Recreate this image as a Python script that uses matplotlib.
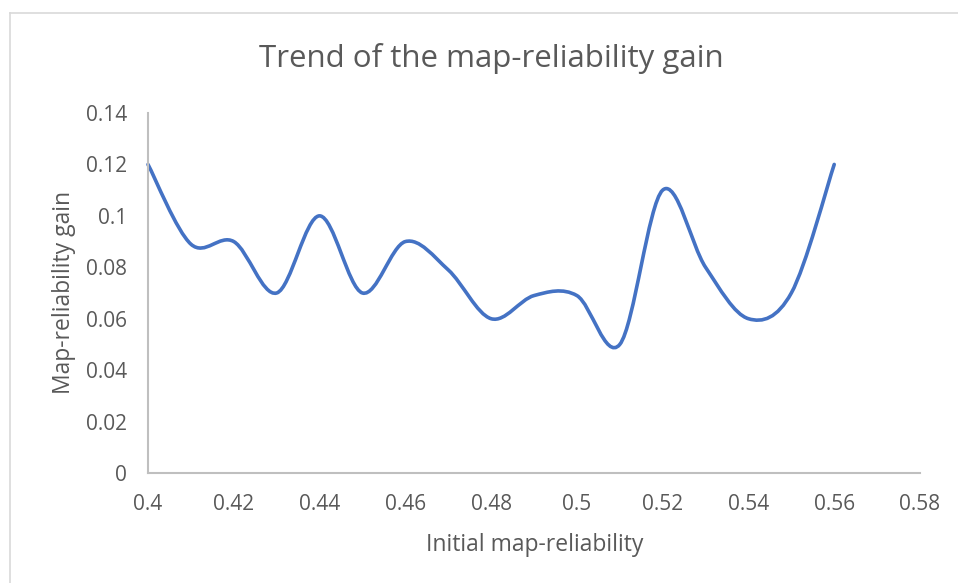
import matplotlib
matplotlib.use("Agg")
import matplotlib.pyplot as plt
from matplotlib.path import Path
from matplotlib.patches import PathPatch
from matplotlib.lines import Line2D

x_vals = [0.40, 0.41, 0.42, 0.43, 0.44, 0.45, 0.46, 0.47, 0.48, 0.49, 0.50,
          0.51, 0.52, 0.53, 0.54, 0.55, 0.56]
y_vals = [0.12, 0.089, 0.09, 0.07, 0.10, 0.07, 0.09, 0.079, 0.06, 0.069, 0.069,
          0.05, 0.11, 0.08, 0.06, 0.07, 0.12]
x_ticks = [0.40, 0.42, 0.44, 0.46, 0.48, 0.50, 0.52, 0.54, 0.56, 0.58]
x_tick_labels = ["0.4", "0.42", "0.44", "0.46", "0.48", "0.5", "0.52", "0.54", "0.56", "0.58"]
y_ticks = [0, 0.02, 0.04, 0.06, 0.08, 0.10, 0.12, 0.14]
y_tick_labels = ["0", "0.02", "0.04", "0.06", "0.08", "0.1", "0.12", "0.14"]

TXT = "#595959"
AX = "#BFBFBF"
LINE = "#4472C4"
plt.rcParams['font.family'] = ['Open Sans', 'DejaVu Sans']

fig = plt.figure(figsize=(9.58, 5.83), dpi=100)
ax = fig.add_axes([148/958, 1-473/583, (920-148)/958, (473-113)/583])

# Excel-style smoothed line as cubic Bezier path
pts = list(zip(x_vals, y_vals))
n = len(pts)
verts = [pts[0]]
codes = [Path.MOVETO]
for i in range(n-1):
    p0 = pts[i-1] if i > 0 else pts[i]
    p1 = pts[i]
    p2 = pts[i+1]
    p3 = pts[i+2] if i+2 < n else pts[i+1]
    c1 = (p1[0] + (p2[0]-p0[0])/6, p1[1] + (p2[1]-p0[1])/6)
    c2 = (p2[0] - (p3[0]-p1[0])/6, p2[1] - (p3[1]-p1[1])/6)
    verts += [c1, c2, p2]
    codes += [Path.CURVE4]*3
ax.add_patch(PathPatch(Path(verts, codes), fill=False, edgecolor=LINE, lw=2.6,
                       capstyle='round', joinstyle='round', clip_on=False))

ax.set_xlim(0.40, 0.58)
ax.set_ylim(0, 0.14)
ax.set_xticks(x_ticks)
ax.set_xticklabels(x_tick_labels)
ax.set_yticks(y_ticks)
ax.set_yticklabels(y_tick_labels)
ax.tick_params(length=0, labelsize=15, labelcolor=TXT)
ax.tick_params(axis='x', pad=15)
ax.tick_params(axis='y', pad=15)
for s in ['top', 'right']:
    ax.spines[s].set_visible(False)
for s in ['left', 'bottom']:
    ax.spines[s].set_color(AX)
    ax.spines[s].set_linewidth(1.5)

fig.text(491/958, 1-59/583, "Trend of the map-reliability gain", ha='center', va='center',
         fontsize=22.5, color=TXT)
fig.text(535/958, 1-545/583, "Initial map-reliability", ha='center', va='center',
         fontsize=16.5, color=TXT)
fig.text(64/958, 1-292/583, "Map-reliability gain", ha='center', va='center',
         rotation=90, fontsize=16.5, color=TXT)

# chart border
fig.add_artist(Line2D([10/958, 1], [1-13/583, 1-13/583], color="#D9D9D9", lw=1.2))
fig.add_artist(Line2D([10/958, 10/958], [0, 1-13/583], color="#D9D9D9", lw=1.2))

fig.savefig("out.png", dpi=100)
